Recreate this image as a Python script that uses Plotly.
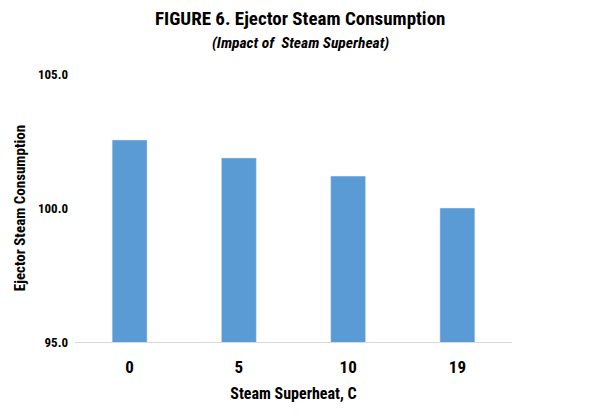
import plotly.graph_objects as go

categories = ["0", "5", "10", "19"]
values = [102.54, 101.87, 101.19, 100.0]
y_ticks = [95.0, 100.0, 105.0]
y_tick_labels = ["95.0", "100.0", "105.0"]

FONT = "Liberation Sans Narrow, Arial Narrow, Roboto Condensed, sans-serif"

fig = go.Figure(go.Bar(x=categories, y=values, marker_color="#5B9BD5", width=0.32, hoverinfo="skip"))

L, R, T, B = 75, 90, 74, 76
PW, PH = 602 - L - R, 418 - T - B

fig.update_layout(
    width=602, height=418,
    margin=dict(l=L, r=R, t=T, b=B),
    paper_bgcolor="white", plot_bgcolor="white",
    font=dict(family=FONT, color="black"),
    showlegend=False,
)
fig.add_annotation(text="<b>FIGURE 6. Ejector Steam Consumption</b>", xref="paper", yref="paper",
                   x=(300 - L) / PW, y=(418 - B - 19) / PH, xanchor="center", yanchor="middle",
                   showarrow=False, font=dict(size=19, family=FONT))
fig.add_annotation(text="<b><i>(Impact of  Steam Superheat)</i></b>", xref="paper", yref="paper",
                   x=(300 - L) / PW, y=(418 - B - 43) / PH, xanchor="center", yanchor="middle",
                   showarrow=False, font=dict(size=15.5, family=FONT))

fig.update_xaxes(
    type="category", showline=True, linecolor="#d9d9d9", linewidth=1,
    ticks="", tickfont=dict(size=17, family=FONT), showgrid=False,
    ticklabelstandoff=10,
    title=dict(text="<b>Steam Superheat, C</b>", font=dict(size=16, family=FONT), standoff=11),
    tickprefix="<b>", ticksuffix="</b>",
)
fig.update_yaxes(
    range=[95, 105], tickvals=y_ticks, ticktext=["<b>%s</b>" % t for t in y_tick_labels],
    showgrid=False, showline=False, zeroline=False, ticks="",
    ticklabelstandoff=6,
    tickfont=dict(size=13, family=FONT),
    title=dict(text="<b>Ejector Steam Consumption</b>", font=dict(size=15, family=FONT), standoff=8),
)

fig.write_html("out.html", config={"displayModeBar": False},
               post_script="document.body.style.margin='0';")
